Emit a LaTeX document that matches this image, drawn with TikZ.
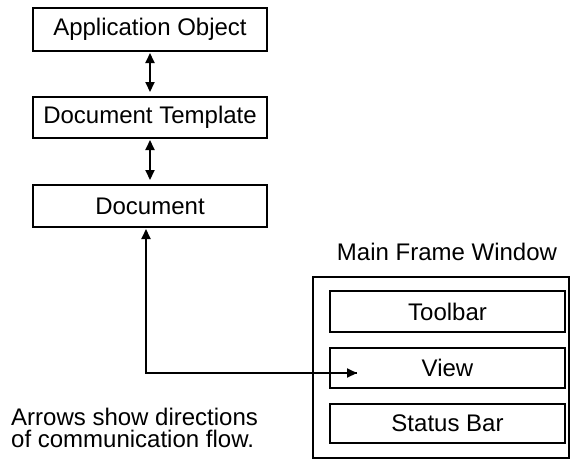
\documentclass[tikz,border=0pt]{standalone}
\usepackage{fontspec}
\setmainfont{Liberation Sans}
\usetikzlibrary{arrows.meta}
\tikzset{
  box/.style={draw=black, line width=2pt, rectangle, inner sep=0pt,
    font=\fontsize{24}{26}\selectfont},
  label/.style={inner sep=0pt, font=\fontsize{24}{26}\selectfont},
  flow/.style={line width=2pt, {Triangle[length=10pt,width=9pt]}-{Triangle[length=10pt,width=9pt]}},
  oneway/.style={line width=2pt, -{Triangle[length=10pt,width=9pt]}}
}
\begin{document}
\begin{tikzpicture}[x=1pt,y=-1pt]
\useasboundingbox (0,0) rectangle (570,467);
% left stack
\node[box, minimum width=234pt, minimum height=43pt] (app) at (150,29.5) {Application Object};
\node[box, minimum width=234pt, minimum height=41pt] (tmpl) at (150,117.5) {Document Template};
\node[box, minimum width=234pt, minimum height=42pt] (doc) at (150,206) {Document};
\draw[flow, shorten <=1pt, shorten >=4pt] (app.south) -- (tmpl.north);
\draw[flow, shorten <=1pt, shorten >=4pt] (tmpl.south) -- (doc.north);
% main frame window
\node[label] (mfw) at (447,252) {Main Frame Window};
\node[box, minimum width=256pt, minimum height=181pt] (frame) at (441,367.5) {};
\node[box, minimum width=235pt, minimum height=41pt] (tool) at (447.5,311.5) {Toolbar};
\node[box, minimum width=235pt, minimum height=40pt] (view) at (447.5,368) {View};
\node[box, minimum width=235pt, minimum height=39pt] (status) at (447.5,423.5) {Status Bar};
% document <-> view
\coordinate (vtip) at (357,373);
\draw[oneway, shorten >=1pt] (vtip) -| ([xshift=-4pt]doc.south);
\draw[oneway] ([xshift=-4pt]doc.south |- vtip) -- (vtip);
% note
\node[label, anchor=base west] (note) at (11,425) {Arrows show directions};
\node[label, anchor=base west] (note2) at (11,447) {of communication flow.};
\end{tikzpicture}
\end{document}
